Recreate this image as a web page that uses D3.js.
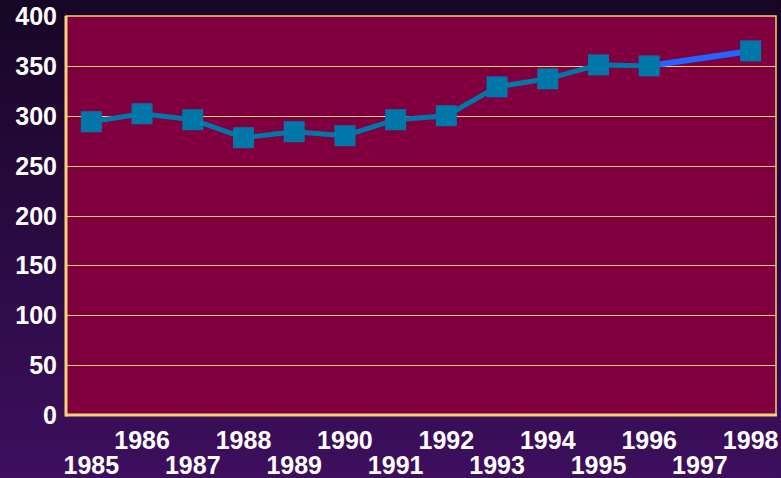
<!DOCTYPE html>
<html lang="en">
<head>
<meta charset="utf-8">
<style type="text/css">
    body { margin: 0; overflow: hidden; }
    svg { display: block; }
    .lbl { font-family: "Liberation Sans", Arial, sans-serif; font-weight: bold; font-size: 25px; fill: #ffffff; }
</style>
</head>
<body>
<div id="chart"></div>
<script src="https://d3js.org/d3.v7.min.js"></script>
<script type="text/javascript">
    var years = ["1985", "1986", "1987", "1988", "1989", "1990", "1991", "1992", "1993", "1994", "1995", "1996", "1997", "1998"];
    // 1997 has no value, a straight segment joins 1996 to 1998
    var mainYears = ["1985", "1986", "1987", "1988", "1989", "1990", "1991", "1992", "1993", "1994", "1995", "1996"];
    var mainValues = [294, 302, 296, 278, 284, 280, 296, 300, 329, 337, 351, 350];
    var lastYears = ["1996", "1998"];
    var lastValues = [350, 365];
    var yTicks = [0, 50, 100, 150, 200, 250, 300, 350, 400];

    var width = 781, height = 478;
    var pLeft = 66, pRight = 776, pTop = 16, pBottom = 415;

    var svg = d3.select("#chart").append("svg")
        .attr("width", width)
        .attr("height", height);

    var defs = svg.append("defs");
    var grad = defs.append("linearGradient")
        .attr("id", "bg").attr("x1", 0).attr("y1", 0).attr("x2", 0).attr("y2", 1);
    grad.append("stop").attr("offset", "0%").attr("stop-color", "#170625");
    grad.append("stop").attr("offset", "100%").attr("stop-color", "#3d0f5e");

    svg.append("rect").attr("width", width).attr("height", height).attr("fill", "url(#bg)");

    var x = d3.scaleBand().domain(years).range([pLeft, pRight]);
    var y = d3.scaleLinear().domain([0, 400]).range([pBottom, pTop]);
    var cx = function (d) { return x(d) + x.bandwidth() / 2; };

    // plot area
    svg.append("rect")
        .attr("x", pLeft).attr("y", pTop)
        .attr("width", pRight - pLeft).attr("height", pBottom - pTop)
        .attr("fill", "#80003f")
        .attr("stroke", "#f5d070").attr("stroke-width", 1.5);

    // gridlines
    svg.selectAll(".grid")
        .data(yTicks.filter(function (d) { return d > 0 && d < 400; }))
        .enter().append("line")
        .attr("x1", pLeft).attr("x2", pRight)
        .attr("y1", function (d) { return Math.round(y(d)) + 0.5; })
        .attr("y2", function (d) { return Math.round(y(d)) + 0.5; })
        .attr("stroke", "#f5d070").attr("stroke-width", 1.2);

    // axis lines (thicker left and bottom)
    svg.append("line").attr("x1", pLeft).attr("x2", pLeft).attr("y1", pTop).attr("y2", pBottom + 1.5)
        .attr("stroke", "#f7d477").attr("stroke-width", 3);
    svg.append("line").attr("x1", pLeft).attr("x2", pRight + 1).attr("y1", pBottom).attr("y2", pBottom)
        .attr("stroke", "#f7d477").attr("stroke-width", 3);

    // y labels
    svg.selectAll(".ylab")
        .data(yTicks)
        .enter().append("text")
        .attr("class", "lbl")
        .attr("x", 57)
        .attr("y", function (d) { return y(d) + 9; })
        .attr("text-anchor", "end")
        .text(function (d) { return d; });

    // x labels, staggered
    svg.selectAll(".xlab")
        .data(years)
        .enter().append("text")
        .attr("class", "lbl")
        .attr("x", cx)
        .attr("y", function (d, i) { return i % 2 === 0 ? 474 : 449; })
        .attr("text-anchor", "middle")
        .text(function (d) { return d; });

    var line = d3.line()
        .x(function (d) { return cx(d[0]); })
        .y(function (d) { return y(d[1]); });

    var mainPts = mainYears.map(function (d, i) { return [d, mainValues[i]]; });
    var lastPts = lastYears.map(function (d, i) { return [d, lastValues[i]]; });

    svg.append("path")
        .attr("d", line(mainPts))
        .attr("fill", "none")
        .attr("stroke", "#0077a8")
        .attr("stroke-width", 5);

    svg.append("path")
        .attr("d", line(lastPts))
        .attr("fill", "none")
        .attr("stroke", "#2266ff")
        .attr("stroke-width", 6);

    var markers = mainPts.concat([lastPts[1]]);
    var s = 21;
    svg.selectAll(".mark")
        .data(markers)
        .enter().append("rect")
        .attr("x", function (d) { return cx(d[0]) - s / 2; })
        .attr("y", function (d) { return y(d[1]) - s / 2; })
        .attr("width", s).attr("height", s)
        .attr("fill", "#0077a8");
</script>
</body>
</html>
